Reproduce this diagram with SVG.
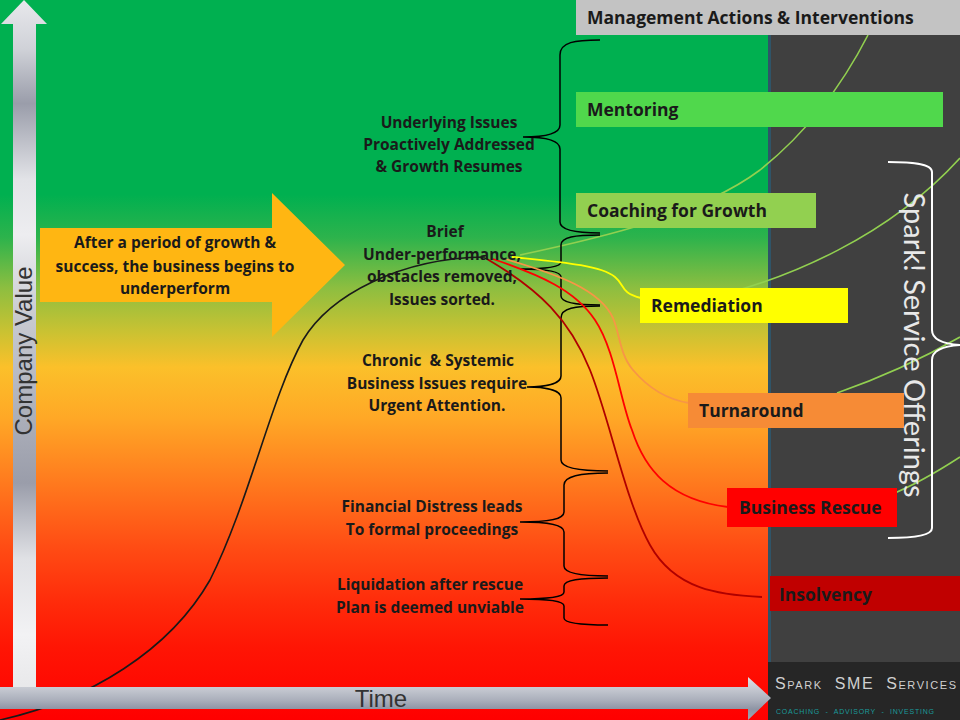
<svg xmlns="http://www.w3.org/2000/svg" width="960" height="720" viewBox="0 0 960 720">
<defs>
<linearGradient id="bg" x1="0" y1="0" x2="0" y2="720" gradientUnits="userSpaceOnUse">
<stop offset="0" stop-color="#00B050"/>
<stop offset="0.27" stop-color="#00B050"/>
<stop offset="0.33" stop-color="#2DB34C"/>
<stop offset="0.40" stop-color="#8DBE40"/>
<stop offset="0.46" stop-color="#C9C232"/>
<stop offset="0.51" stop-color="#FBC02A"/>
<stop offset="0.58" stop-color="#FFA826"/>
<stop offset="0.67" stop-color="#FF7A1E"/>
<stop offset="0.76" stop-color="#FF4C14"/>
<stop offset="0.84" stop-color="#FF2A0A"/>
<stop offset="0.90" stop-color="#FF1504"/>
<stop offset="1" stop-color="#FF0000"/>
</linearGradient>
<linearGradient id="vArrow" x1="0" y1="0" x2="0" y2="690" gradientUnits="userSpaceOnUse">
<stop offset="0" stop-color="#E8E8EC"/>
<stop offset="0.07" stop-color="#D0D2D8"/>
<stop offset="0.15" stop-color="#9A9DAA"/>
<stop offset="0.26" stop-color="#E2E3E7"/>
<stop offset="0.34" stop-color="#EDEDF0"/>
<stop offset="0.46" stop-color="#C8CAD0"/>
<stop offset="0.56" stop-color="#B4B7C1"/>
<stop offset="0.70" stop-color="#9A9DAA"/>
<stop offset="0.81" stop-color="#E0E1E5"/>
<stop offset="0.92" stop-color="#F2F2F4"/>
<stop offset="1" stop-color="#E8E8EA"/>
</linearGradient>
<linearGradient id="hArrow" x1="0" y1="677" x2="0" y2="720" gradientUnits="userSpaceOnUse">
<stop offset="0" stop-color="#E0E2E8"/>
<stop offset="0.25" stop-color="#C8CBD3"/>
<stop offset="0.55" stop-color="#A9AEBA"/>
<stop offset="0.75" stop-color="#8E94A4"/>
<stop offset="1" stop-color="#A0A5B2"/>
</linearGradient>
<style>
.lbl{font-family:"Open Sans",Lato,"Liberation Sans",sans-serif;font-weight:bold;font-size:15.5px;fill:#1a1a1a;text-anchor:middle}
.box{font-family:"Open Sans",Lato,"Liberation Sans",sans-serif;font-weight:bold;font-size:17.5px;fill:#1a1a1a}
.brace{fill:none;stroke:#000;stroke-width:1.5}
.gcurve{fill:none;stroke:#92D050;stroke-width:1.6}
.axis{font-family:"Liberation Sans",Arial,sans-serif;font-size:24px;fill:#333}
</style>
</defs>

<rect x="0" y="0" width="770" height="720" fill="url(#bg)"/>
<rect x="768" y="35" width="192" height="628" fill="#404040"/>
<line x1="769.5" y1="35" x2="769.5" y2="662" stroke="#2F5468" stroke-width="3"/>
<rect x="768" y="662" width="192" height="58" fill="#262626"/>

<g id="connectors">
<path class="gcurve" d="M520,255 C600,238 700,215 760,170 C810,130 845,80 868,35"/>
<path class="gcurve" d="M700,300 C790,280 890,235 960,158"/>
<path class="gcurve" d="M837,393 C880,378 920,360 960,337"/>
<path class="gcurve" d="M890,495 C915,485 940,470 960,457"/>
<path class="brace" d="M600,40 C575,40 560,42 560,55 L560,125 C560,134 545,137 523,137 C545,137 560,140 560,149 L560,222 C560,230 575,233 600,233"/>
<path class="brace" d="M600,235 C575,235 561,237 561,245 L561,262 C561,267 545,269 520,269 C545,269 561,271 561,277 L561,296 C561,302 575,305 600,305"/>
<path class="brace" d="M600,306 C575,306 561,308 561,318 L561,376 C561,384 545,387 527,387 C545,387 561,390 561,398 L561,460 C561,468 580,471 608,471"/>
<path class="brace" d="M608,473 C580,473 564,476 564,485 L564,512 C564,519 550,522 520,522 C550,522 564,525 564,532 L564,566 C564,573 580,576 608,576"/>
<path class="brace" d="M608,578 C580,578 564,580 564,586 L564,592 C564,597 550,599 520,599 C550,599 564,601 564,606 L564,618 C564,623 580,625 608,625"/>
<path d="M888,162 C910,162 932,163 932,172 L932,330 C932,340 945,344 960,345 C945,346 932,350 932,360 L932,528 C932,536 910,538 888,538" fill="none" stroke="#FFFFFF" stroke-width="2"/>
<path d="M0,720 C90,700 170,650 210,580 C250,500 270,400 303,340 C330,295 400,258 485,257" fill="none" stroke="#1a1a1a" stroke-width="1.6"/>
<path d="M487,259 C540,290 570,320 590,370 C610,420 625,500 650,545 C675,590 720,595 762,597" fill="none" stroke="#B00000" stroke-width="1.8"/>
<path d="M493,259 C540,275 575,290 595,320 C615,350 620,400 632,430 C645,470 670,500 728,507" fill="none" stroke="#FF0000" stroke-width="1.8"/>
<path d="M505,259 C560,275 600,290 613,318 C620,335 620,355 633,370 C650,390 670,400 689,403" fill="none" stroke="#F79646" stroke-width="1.8"/>
<path d="M512,257 C560,262 600,265 615,277 C625,285 620,293 641,298" fill="none" stroke="#FFFF00" stroke-width="1.8"/>
</g>

<g id="header">
<rect x="576" y="0" width="384" height="35" fill="#C3C3C3"/>
<text class="box" x="587" y="24">Management Actions &amp; Interventions</text>
</g>
<g id="mentoring">
<rect x="576" y="92" width="367" height="35" fill="#50D84C"/>
<text class="box" x="587" y="116">Mentoring</text>
</g>
<g id="coaching">
<rect x="576" y="193" width="240" height="35" fill="#92D050"/>
<text class="box" x="587" y="217">Coaching for Growth</text>
</g>
<g id="remediation">
<rect x="640" y="288" width="208" height="35" fill="#FFFF00"/>
<text class="box" x="651" y="312">Remediation</text>
</g>
<g id="turnaround">
<rect x="688" y="393" width="216" height="35" fill="#F68B36"/>
<text class="box" x="699" y="417">Turnaround</text>
</g>
<g id="business-rescue">
<rect x="727" y="488" width="170" height="39" fill="#FF0000"/>
<text class="box" x="739" y="514">Business Rescue</text>
</g>
<g id="insolvency">
<rect x="770" y="576" width="190" height="35" fill="#C00000"/>
<text class="box" x="779" y="601">Insolvency</text>
</g>

<g id="labels">
<text class="lbl" x="449" y="128">Underlying Issues</text>
<text class="lbl" x="449" y="150">Proactively Addressed</text>
<text class="lbl" x="449" y="172">&amp; Growth Resumes</text>
<text class="lbl" x="445" y="237">Brief</text>
<text class="lbl" x="442" y="260">Under-performance,</text>
<text class="lbl" x="442" y="282">obstacles removed,</text>
<text class="lbl" x="442" y="305">Issues sorted.</text>
<text class="lbl" x="438" y="366" xml:space="preserve">Chronic  &amp; Systemic</text>
<text class="lbl" x="437" y="389">Business Issues require</text>
<text class="lbl" x="437" y="411">Urgent Attention.</text>
<text class="lbl" x="432" y="512">Financial Distress leads</text>
<text class="lbl" x="432" y="535">To formal proceedings</text>
<text class="lbl" x="430" y="590">Liquidation after rescue</text>
<text class="lbl" x="430" y="613">Plan is deemed unviable</text>
</g>

<g id="spark-offerings">
<text x="0" y="0" transform="translate(904,345) rotate(90)" font-family="Lato,'Open Sans',sans-serif" font-size="29" fill="#E8E8E8" text-anchor="middle">Spark! Service Offerings</text>
</g>

<g id="growth-arrow">
<path d="M40,228 L272,228 L272,193 L345,265 L272,337 L272,302 L40,302 Z" fill="#FFB612"/>
<text class="lbl" x="175" y="248">After a period of growth &amp;</text>
<text class="lbl" x="175" y="272">success, the business begins to</text>
<text class="lbl" x="175" y="294">underperform</text>
</g>

<g id="value-axis">
<path d="M13,688 L13,24 L1,24 L24,0 L47,24 L36,24 L36,688 Z" fill="url(#vArrow)"/>
<text class="axis" transform="translate(32,351) rotate(-90)" text-anchor="middle">Company Value</text>
</g>

<g id="time-axis">
<path d="M0,687 L748,687 L748,677 L771,698 L748,720 L748,709 L0,709 Z" fill="url(#hArrow)"/>
<text class="axis" x="381" y="707" text-anchor="middle">Time</text>
</g>

<g id="logo">
<text x="775" y="689" font-family="'Liberation Sans',Arial,sans-serif" font-size="16" font-variant="small-caps" fill="#D0D0D0" textLength="181" lengthAdjust="spacing" xml:space="preserve">Spark  SME  Services</text>
<text x="776" y="714" font-family="'Liberation Sans',Arial,sans-serif" font-size="7" fill="#1A9A9A" textLength="158" lengthAdjust="spacing" xml:space="preserve">COACHING  -  ADVISORY  -  INVESTING</text>
</g>
</svg>
